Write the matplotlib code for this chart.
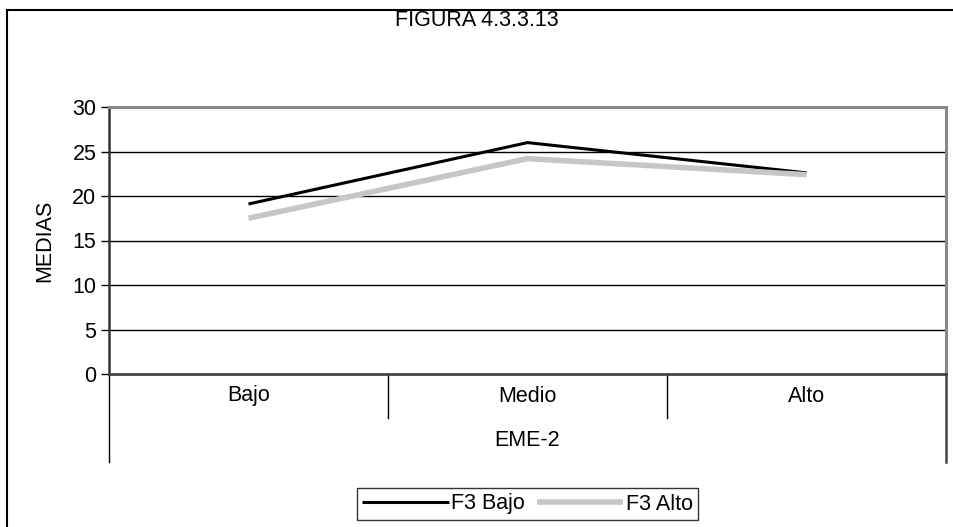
import matplotlib
matplotlib.use('Agg')
import matplotlib.pyplot as plt
from matplotlib.patches import Rectangle

plt.rcParams['font.family'] = ['Liberation Sans', 'DejaVu Sans']

categorias = ['Bajo', 'Medio', 'Alto']
f3_bajo = [19.1, 26.0, 22.6]
f3_alto = [17.5, 24.2, 22.4]
y_ticks = [0, 5, 10, 15, 20, 25, 30]

FS = 15.5
W, H = 954, 527
fig = plt.figure(figsize=(W / 100, H / 100), dpi=100)
ax = fig.add_axes([109 / W, 1 - 374 / H, (946 - 109) / W, (374 - 107) / H])

x = list(range(len(categorias)))
ax.plot(x, f3_bajo, color='black', lw=2.2, label='F3 Bajo', zorder=3,
        solid_capstyle='butt')
ax.plot(x, f3_alto, color='#c6c6c6', lw=4, label='F3 Alto', zorder=4,
        solid_capstyle='butt')

ax.set_xlim(-0.5, len(categorias) - 0.5)
ax.set_ylim(0, 30)
ax.set_yticks(y_ticks)
ax.set_xticks([])
ax.tick_params(axis='y', labelsize=FS, length=6, width=1, direction='out', pad=3)
for v in y_ticks[1:-1]:
    ax.axhline(v, color='black', lw=1, zorder=1)

for s in ['top', 'right']:
    ax.spines[s].set_color('#888888')
    ax.spines[s].set_linewidth(2.2)
ax.spines['left'].set_color('#333333')
ax.spines['left'].set_linewidth(1.8)
ax.spines['bottom'].set_color('#444444')
ax.spines['bottom'].set_linewidth(2)

ax.set_ylabel('MEDIAS', fontsize=FS, labelpad=12)

# tabla de categorias bajo el eje x
tr = ax.get_xaxis_transform()
fila1 = -44 / 267
fila2 = -88 / 267
ax.plot([-0.5, -0.5], [0, fila2], transform=tr, color='black', lw=1, clip_on=False)
ax.plot([2.5, 2.5], [0, fila2], transform=tr, color='#444444', lw=1.8, clip_on=False)
for xd in [0.5, 1.5]:
    ax.plot([xd, xd], [0, fila1], transform=tr, color='black', lw=1, clip_on=False)
for xi, c in zip(x, categorias):
    ax.text(xi, fila1 / 2, c, transform=tr, ha='center', va='center', fontsize=FS)
ax.text(1, (fila1 + fila2) / 2, 'EME-2', transform=tr, ha='center', va='center',
        fontsize=FS)

fig.text(477 / W, 1 - 21 / H, 'FIGURA 4.3.3.13', ha='center', va='center',
         fontsize=FS)

leg = fig.legend(loc='center', bbox_to_anchor=(527.5 / W, 1 - 504 / H), ncol=2,
                 fontsize=FS, frameon=True, fancybox=False, handlelength=4.0,
                 handletextpad=0.1, columnspacing=0.6, borderpad=0.25,
                 borderaxespad=0)
leg.get_frame().set_edgecolor('black')
leg.get_frame().set_linewidth(1)

fig.add_artist(Rectangle((7 / W, -0.1), 1.2, 1.1 - 10 / H, transform=fig.transFigure,
                         fill=False, edgecolor='black', lw=1.5))

fig.savefig('out.png', dpi=100)
